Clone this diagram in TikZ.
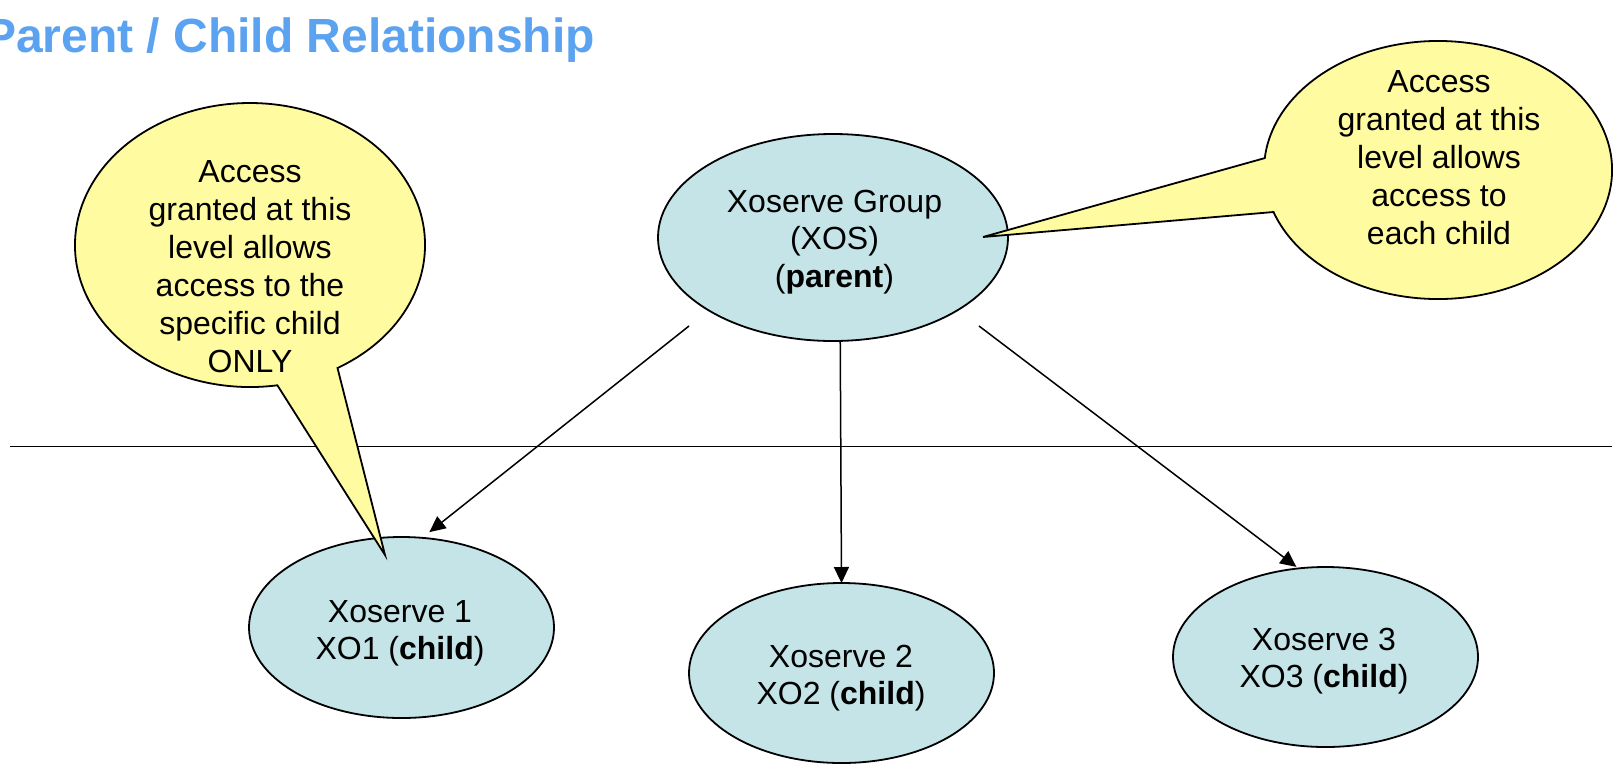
\documentclass[tikz,border=0pt]{standalone}
\usepackage{fontspec}
\setmainfont{Liberation Sans}
\usetikzlibrary{shapes.geometric,arrows.meta}
\definecolor{bubfill}{RGB}{196,228,232}
\definecolor{callfill}{RGB}{255,251,160}
\definecolor{titleblue}{RGB}{91,163,240}
\tikzset{
  bub/.style={ellipse, draw=black, line width=1.8pt, fill=bubfill, inner sep=0pt, outer sep=0pt},
  callout/.style={draw=black, line width=1.8pt, fill=callfill},
  arr/.style={line width=1.5pt, -{Triangle[length=16pt,width=15pt]}},
  hline/.style={line width=1.8pt},
  txt/.style={align=center, inner sep=0pt, anchor=north, font=\fontsize{32}{37.5}\selectfont},
  ctxt/.style={align=center, inner sep=0pt, anchor=north, font=\fontsize{32}{38}\selectfont},
  titlestyle/.style={inner sep=0pt, anchor=base west, text=titleblue, font=\fontsize{48}{58}\selectfont\bfseries},
}
\begin{document}
\begin{tikzpicture}[x=1pt,y=1pt]
\useasboundingbox (0,0) rectangle (1614,-764);

% title
\node[titlestyle] (title) at (-16,-52) {Parent / Child Relationship};

% horizontal divider
\coordinate (hl) at (10,-446.5);
\coordinate (hr) at (1612,-446.5);
\draw[hline] (hl) -- (hr);

% ellipses
\node[bub, minimum width=350pt, minimum height=207pt] (p) at (833,-237.5) {};
\node[bub, minimum width=305pt, minimum height=181pt] (c1) at (401.5,-627.5) {};
\node[bub, minimum width=305pt, minimum height=180pt] (c2) at (841.5,-673) {};
\node[bub, minimum width=305pt, minimum height=180pt] (c3) at (1325.5,-657) {};

% connectors
\coordinate (ls) at (689,-326);
\coordinate (rs) at (979,-326);
\draw[arr, shorten >=9.2pt] (ls) -- (c1.77.9);
\draw[arr] (p.274.3) -- (c2.north);
\draw[arr, shorten >=2.6pt] (rs) -- (c3.107.8);

% callouts
\draw[callout] (337.5,-368) arc[start angle=300, end angle=639, x radius=175pt, y radius=142pt] -- (385,-555) -- cycle;
\draw[callout] (1273.5,-212) arc[start angle=199, end angle=534.7, x radius=174pt, y radius=129pt] -- (983,-237) -- cycle;

% texts
\node[txt] (pt) at (834.5,-185.75) {\strut Xoserve Group\\(XOS)\\(\textbf{parent})};
\node[txt] (c1t) at (400,-595.75) {\strut Xoserve 1\\XO1 (\textbf{child})};
\node[txt] (c2t) at (841,-640.75) {\strut Xoserve 2\\XO2 (\textbf{child})};
\node[txt] (c3t) at (1324,-623.75) {\strut Xoserve 3\\XO3 (\textbf{child})};
\node[ctxt] (lct) at (250,-155.4) {\strut Access\\granted at this\\level allows\\access to the\\specific child\\ONLY};
\node[ctxt] (rct) at (1439,-65.4) {\strut Access\\granted at this\\level allows\\access to\\each child};
\end{tikzpicture}
\end{document}
